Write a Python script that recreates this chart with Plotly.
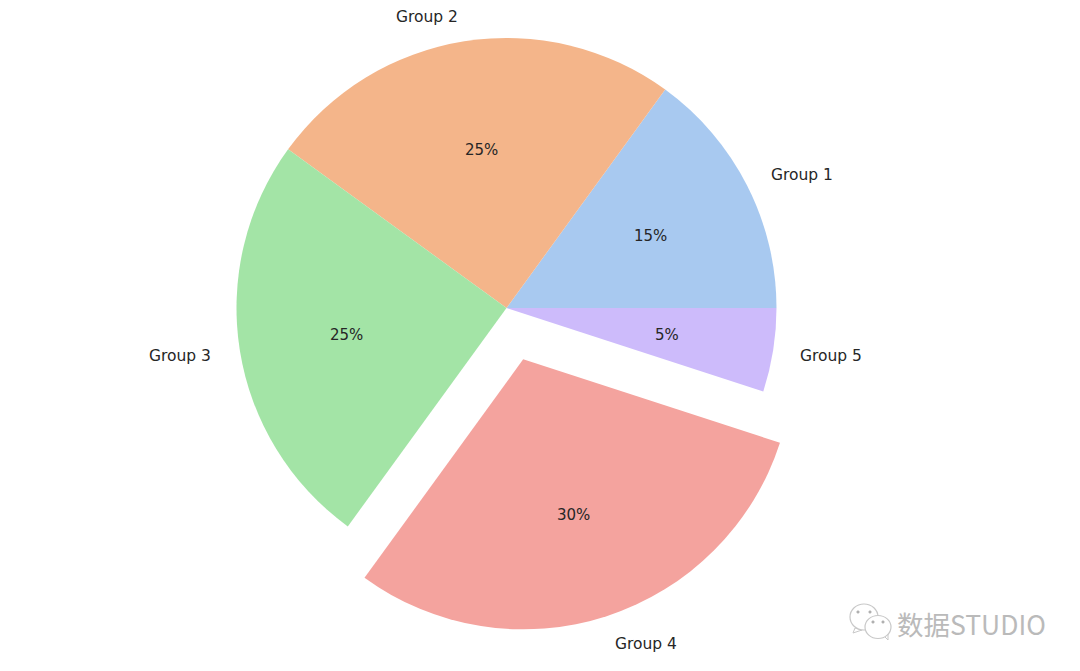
import math
import plotly.graph_objects as go

labels = ["Group 1", "Group 2", "Group 3", "Group 4", "Group 5"]
values = [15, 25, 25, 30, 5]
colors = ["#A8C9F0", "#F4B58A", "#A3E4A6", "#F4A39E", "#CDBBFB"]
pulls = [0, 0, 0, 0.2, 0]

W, H = 1080, 671
PAGE_INSET = 8  # the browser's default body margin
CX, CY, R = 506.5, 308, 270
LABEL_FONT = "DejaVu Sans"
TEXT = "#262626"
CLEAR = "rgba(0,0,0,0)"

total = sum(values)


def px(x):
    return (x - PAGE_INSET) / W


def py(y):
    return 1 - (y - PAGE_INSET) / H


def domain(cx, cy, r):
    return dict(x=[px(cx - r), px(cx + r)], y=[py(cy + r), py(cy - r)])


def note(x, y, text, anchor="center", size=15, color=TEXT, family=LABEL_FONT):
    return dict(x=px(x), y=py(y), xref="paper", yref="paper", text=text, showarrow=False,
                xanchor=anchor, yanchor="middle", font=dict(family=family, size=size, color=color))


fig = go.Figure()
annotations = []
cum = 0
traces = {}
for i, (lab, val, col, pull) in enumerate(zip(labels, values, colors, pulls)):
    mid = math.radians((cum + val / 2) / total * 360)
    cum += val
    ox = CX + pull * R * math.cos(mid)
    oy = CY - pull * R * math.sin(mid)
    traces.setdefault((round(ox, 2), round(oy, 2)), []).append(i)
    lx = ox + 1.1 * R * math.cos(mid)
    ly = oy - 1.1 * R * math.sin(mid)
    on_right = math.cos(mid) > 0
    annotations.append(note(lx - 2 if on_right else lx, ly + 2, lab, "left" if on_right else "right", size=15.5))
    annotations.append(note(ox + 0.6 * R * math.cos(mid), oy - 0.6 * R * math.sin(mid) + 2, f"{val}%"))

# Plotly's counterclockwise pie ends its first wedge at `rotation` (degrees clockwise from noon),
# so that wedge is set to finish where the matplotlib-style start angle places it.
first_end = 90 - values[0] / total * 360

# Exploded wedge is its own pie, so every wedge keeps the same radius.
for (ox, oy), idx in traces.items():
    fig.add_trace(go.Pie(
        labels=labels, values=values, sort=False, direction="counterclockwise", rotation=first_end,
        marker=dict(colors=[colors[i] if i in idx else CLEAR for i in range(len(labels))],
                    line=dict(width=0)),
        textinfo="none", hoverinfo="label+percent", showlegend=False,
        domain=domain(ox, oy, R),
    ))

# Watermark
annotations.append(note(894.5, 623, "数据STUDIO", "left", 26.5, "#bababa", "Noto Sans CJK SC"))

shapes = []
GREY = "#c8c8c8"


def circle(x, y, rx, ry, line=GREY, fill="white", w=1.2):
    return dict(type="circle", xref="paper", yref="paper", x0=px(x - rx), x1=px(x + rx),
                y0=py(y + ry), y1=py(y - ry), line=dict(color=line, width=w), fillcolor=fill)


shapes.append(dict(type="path", xref="paper", yref="paper",
                   path=f"M {px(855)} {py(628)} L {px(853)} {py(633)} L {px(862)} {py(630)} Z",
                   line=dict(color=GREY, width=1), fillcolor="white"))
shapes.append(circle(864, 617, 14, 13))
shapes.append(dict(type="path", xref="paper", yref="paper",
                   path=f"M {px(884)} {py(636)} L {px(888)} {py(640)} L {px(888)} {py(633)} Z",
                   line=dict(color=GREY, width=1), fillcolor="white"))
shapes.append(circle(878, 627, 13, 11.5))
for ex, ey in [(858, 612), (870, 612), (873, 622), (883, 622)]:
    shapes.append(circle(ex, ey, 1.3, 1.3, line="#b0b0b0", fill="#b0b0b0", w=0.5))

fig.update_layout(width=W, height=H, margin=dict(l=0, r=0, t=0, b=0),
                  paper_bgcolor="white", annotations=annotations, shapes=shapes)
fig.write_html("out.html", config={"displayModeBar": False})
